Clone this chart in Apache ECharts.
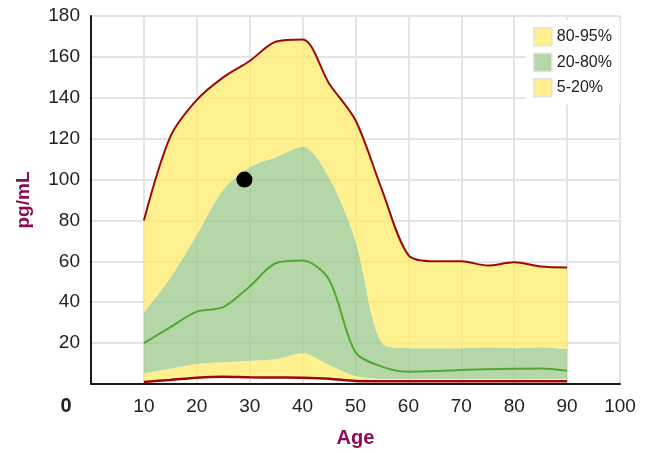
<!DOCTYPE html>
<html>
<head>
<meta charset="utf-8">
<script src="https://cdn.jsdelivr.net/npm/echarts@6/dist/echarts.min.js"></script>
<style>html,body{margin:0;padding:0;background:#fff}#c{width:654px;height:453px}</style>
</head>
<body>
<div id="c"></div>
<script>
// Data
var ages = [10, 15, 20, 25, 30, 35, 40, 45, 50, 55, 60, 65, 70, 75, 80, 85, 90];
var p95  = [80, 121, 139, 150, 158, 167.5, 168.5, 147, 129, 95, 63, 60, 60, 58, 59.5, 57.5, 57];
var p80  = [35, 52, 73, 95, 106, 111, 116, 101, 70, 20, 17.5, 17.5, 17.5, 18, 17.5, 18, 17];
var p50  = [20, 27.8, 35.4, 37.6, 47.7, 59.2, 60.4, 51, 15.5, 8.5, 6, 6.3, 6.9, 7.2, 7.4, 7.6, 6.5];
var p20  = [5.2, 7.5, 9.8, 10.6, 11.4, 12.1, 15, 9.3, 3.9, 2.4, 2.4, 2.4, 2.4, 2.4, 2.4, 2.4, 2.4];
var p5   = [1, 2, 3.1, 3.6, 3.3, 3.2, 3.1, 2.6, 1.5, 1.3, 1.3, 1.3, 1.3, 1.3, 1.3, 1.3, 1.3];
var patient = [[29, 100]];
var bandNames = ['80-95%', '20-80%', '5-20%'];
var xTicks = [0, 10, 20, 30, 40, 50, 60, 70, 80, 90, 100];
var yTicks = [0, 20, 40, 60, 80, 100, 120, 140, 160, 180];

var FONT = '"Liberation Sans", Arial, sans-serif';
var YEL = 'rgba(254,236,110,0.78)';
var GRN = 'rgba(160,204,142,0.78)';
var RED = '#9b0a0a';
var GLINE = '#52a734';
var MAROON = '#8e0b50';

function pairs(arr) { return ages.map(function (a, i) { return [a, arr[i]]; }); }
// value first, age second, so that stacking happens on the value (y) dimension
function diffVY(a, b) { return ages.map(function (x, i) { return [+(a[i] - (b ? b[i] : 0)).toFixed(2), x]; }); }

var SM = 0.3;
var bandCommon = {type: 'line', stack: 'b', smooth: SM, showSymbol: false, encode: {x: 1, y: 0},
  lineStyle: {width: 0}, z: 2, silent: true};

var chart = echarts.init(document.getElementById('c'), null, {renderer: 'canvas'});
chart.setOption({
  animation: false,
  grid: {left: 91, right: 34, top: 16, bottom: 69, containLabel: false},
  xAxis: {
    type: 'value', min: 0, max: 100, interval: 10,
    name: 'Age', nameLocation: 'middle', nameGap: 44,
    nameTextStyle: {color: MAROON, fontWeight: 'bold', fontSize: 20, fontFamily: FONT},
    axisLine: {show: true, lineStyle: {color: '#1a1a1a', width: 2}},
    axisTick: {show: false},
    axisLabel: {showMinLabel: false, color: '#222', fontSize: 19, fontFamily: FONT, margin: 13,
      formatter: function (v) { return xTicks.indexOf(v) >= 0 ? String(v) : ''; }},
    splitLine: {show: true, lineStyle: {color: '#e4e4e4', width: 2}}
  },
  yAxis: {
    type: 'value', min: 0, max: 180, interval: 20,
    name: 'pg/mL', nameLocation: 'middle', nameGap: 58, nameRotate: 90,
    nameTextStyle: {color: MAROON, fontWeight: 'bold', fontSize: 19, fontFamily: FONT},
    axisLine: {show: true, lineStyle: {color: '#1a1a1a', width: 2}},
    axisTick: {show: false},
    axisLabel: {showMinLabel: false, color: '#222', fontSize: 19, fontFamily: FONT, margin: 11,
      formatter: function (v) { return yTicks.indexOf(v) >= 0 ? String(v) : ''; }},
    splitLine: {show: true, lineStyle: {color: '#e4e4e4', width: 2}}
  },
  legend: {
    orient: 'vertical', left: 526, top: 20, padding: [7, 8, 7, 7],
    backgroundColor: '#fff', itemWidth: 18, itemHeight: 18, itemGap: 6,
    icon: 'rect',
    textStyle: {fontSize: 16, fontFamily: FONT, color: '#222'},
    data: [
      {name: bandNames[0], itemStyle: {color: YEL, borderColor: '#e2e2e2', borderWidth: 1.5}},
      {name: bandNames[1], itemStyle: {color: GRN, borderColor: '#e2e2e2', borderWidth: 1.5}},
      {name: bandNames[2], itemStyle: {color: YEL, borderColor: '#e2e2e2', borderWidth: 1.5}}
    ]
  },
  graphic: [{
    type: 'text', x: 66, y: 406,
    style: {text: '0', font: 'bold 20px ' + FONT, fill: '#222', textAlign: 'center', textVerticalAlign: 'middle'}
  }],
  series: [
    Object.assign({}, bandCommon, {name: 'base', data: diffVY(p5)}),
    Object.assign({}, bandCommon, {name: bandNames[2], data: diffVY(p20, p5),
      areaStyle: {color: YEL, opacity: 1}, itemStyle: {color: YEL}}),
    Object.assign({}, bandCommon, {name: bandNames[1], data: diffVY(p80, p20),
      areaStyle: {color: GRN, opacity: 1}, itemStyle: {color: GRN}}),
    Object.assign({}, bandCommon, {name: bandNames[0], data: diffVY(p95, p80),
      areaStyle: {color: YEL, opacity: 1}, itemStyle: {color: YEL}}),
    {name: 'p95', type: 'line', data: pairs(p95), smooth: SM, showSymbol: false,
      lineStyle: {color: RED, width: 2}, z: 3, silent: true},
    {name: 'p5', type: 'line', data: pairs(p5), smooth: SM, showSymbol: false,
      lineStyle: {color: RED, width: 2.5}, z: 3, silent: true},
    {name: 'p50', type: 'line', data: pairs(p50), smooth: SM, showSymbol: false,
      lineStyle: {color: GLINE, width: 2}, z: 3, silent: true},
    {name: 'patient', type: 'scatter', data: patient, symbolSize: 16,
      itemStyle: {color: '#000', opacity: 1}, z: 4}
  ]
});
</script>
</body>
</html>
